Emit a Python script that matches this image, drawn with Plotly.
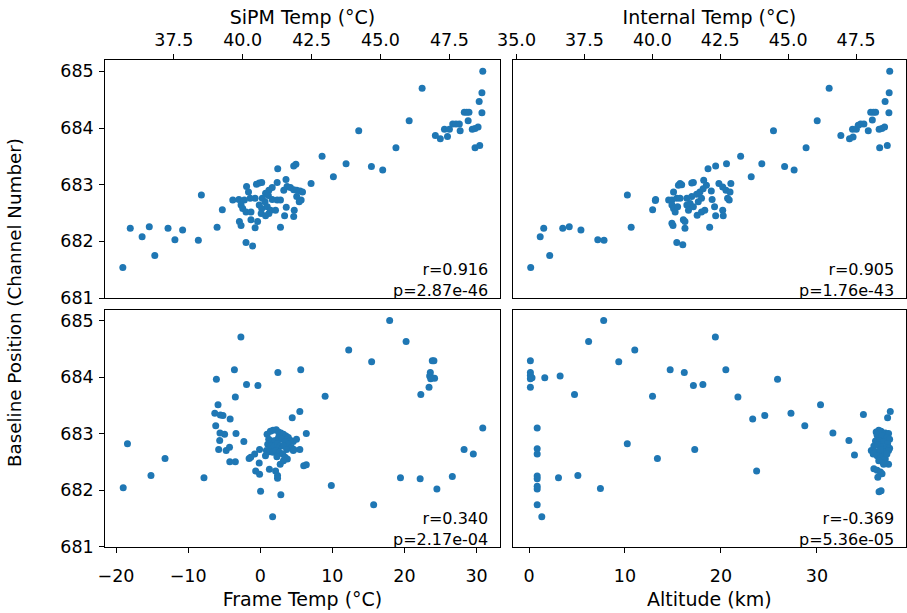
import plotly.graph_objects as go

# ---------------- data ----------------
# Top-left: SiPM Temp vs baseline
sipm_temp = [35.65, 35.92, 36.35, 36.61, 36.81, 37.29, 37.54, 37.82, 38.39, 38.50, 39.07, 39.26,
             41.93, 41.85, 41.27, 42.48, 41.57, 41.25, 40.60, 40.69, 40.50, 40.14, 40.21, 41.07,
             40.95, 40.83, 40.93, 41.49, 41.61, 41.73, 41.85, 41.96, 42.08, 42.17, 39.64, 39.86,
             40.06, 40.45, 40.27, 40.71, 40.81, 41.07, 41.25, 41.37, 41.96, 42.12, 42.05, 39.94,
             40.00, 40.12, 40.30, 40.60, 40.69, 40.89, 41.01, 41.19, 41.58, 41.87, 40.67, 40.83,
             40.95, 41.52, 41.85, 40.30, 40.54, 39.88, 39.94, 40.45, 41.37, 40.12, 40.36,
             48.71, 46.51, 48.68, 48.58, 48.68, 48.04, 48.13, 48.21, 48.18, 46.04, 44.21, 47.32,
             47.50, 47.62, 47.74, 47.86, 47.89, 46.99, 47.17, 47.43, 48.33, 48.43, 48.54, 48.43,
             48.60, 45.56, 42.88, 43.75, 44.67, 45.08, 43.29]
sipm_base = [681.54, 682.23, 682.08, 682.26, 681.75, 682.23, 682.03, 682.20, 682.02, 682.82, 682.25, 682.56,
             683.36, 683.33, 683.28, 683.02, 683.09, 683.04, 683.03, 683.04, 683.01, 682.97, 682.87, 682.95,
             682.90, 682.85, 682.81, 682.90, 682.97, 682.95, 682.91, 682.90, 682.89, 682.87, 682.73, 682.74,
             682.73, 682.76, 682.76, 682.76, 682.70, 682.74, 682.73, 682.73, 682.79, 682.73, 682.70, 682.64,
             682.58, 682.52, 682.52, 682.64, 682.58, 682.61, 682.55, 682.55, 682.60, 682.55, 682.49, 682.45,
             682.49, 682.45, 682.44, 682.38, 682.35, 682.35, 682.28, 682.24, 682.25, 681.98, 681.92,
             685.00, 684.70, 684.62, 684.47, 684.27, 684.28, 684.28, 684.28, 684.13, 684.13, 683.95, 683.98,
             683.98, 684.07, 684.07, 684.07, 683.95, 683.87, 683.81, 683.85, 683.98, 683.99, 684.02, 683.65,
             683.69, 683.65, 683.50, 683.37, 683.32, 683.26, 683.14]

# Top-right: Internal Temp vs baseline
internal_temp = [35.52, 35.87, 36.00, 36.22, 36.70, 36.94, 37.37, 37.99, 38.22, 39.08, 39.22, 40.01, 40.11,
                 42.73, 42.33, 42.05, 41.02, 41.08, 40.96, 41.45, 41.51, 41.89, 41.99, 42.45, 42.59,
                 42.71, 42.86, 42.89, 42.77, 42.83, 40.78, 40.60, 40.72, 40.90, 41.02, 41.27, 41.45,
                 41.63, 41.75, 41.81, 41.87, 42.17, 42.20, 40.12, 40.72, 40.78, 40.84, 40.93, 41.27,
                 41.39, 41.33, 41.51, 41.69, 41.93, 41.81, 41.65, 42.29, 42.59, 42.33, 42.61, 41.14,
                 41.20, 40.72, 40.76, 41.20, 42.11, 40.90, 41.12,
                 48.74, 46.51, 48.72, 48.57, 48.71, 48.04, 48.14, 48.22, 48.10, 46.07, 44.46, 47.37,
                 47.51, 47.67, 47.79, 47.58, 47.95, 46.94, 47.26, 47.39, 48.35, 48.45, 48.55, 48.37,
                 48.65, 45.66, 43.25, 44.03, 44.87, 45.22, 43.64]
internal_base = [681.54, 682.08, 682.23, 681.75, 682.23, 682.26, 682.20, 682.03, 682.02, 682.82, 682.25, 682.56, 682.72,
                 683.37, 683.33, 683.28, 683.02, 683.00, 682.99, 683.03, 683.04, 683.08, 682.99, 683.02, 682.96,
                 682.90, 682.87, 683.02, 682.76, 682.73, 682.87, 682.73, 682.73, 682.76, 682.76, 682.76, 682.79,
                 682.83, 682.87, 682.76, 682.93, 682.89, 682.74, 682.74, 682.64, 682.58, 682.52, 682.61, 682.64,
                 682.67, 682.55, 682.61, 682.70, 682.55, 682.52, 682.46, 682.61, 682.55, 682.45, 682.45, 682.38,
                 682.35, 682.32, 682.28, 682.23, 682.25, 681.98, 681.94,
                 685.00, 684.70, 684.62, 684.47, 684.27, 684.28, 684.28, 684.28, 684.14, 684.13, 683.95, 683.98,
                 683.98, 684.07, 684.07, 684.05, 683.95, 683.87, 683.81, 683.84, 683.98, 683.99, 684.02, 683.65,
                 683.69, 683.65, 683.50, 683.37, 683.32, 683.26, 683.14]

# Bottom-left: Frame Temp vs baseline
frame_temp = [-19.00, -18.41, -15.15, -13.20, -7.80, -2.68, -6.08, -3.58, -1.90, -0.32, 2.45, 5.62,
              -3.45, -5.85, -6.30, -5.53, -5.17, -4.17, -6.17, -5.58, -4.94, -5.62, -3.36, -2.27,
              -5.76, -4.72, -4.26, -4.22, -3.45, -1.54, -1.32, -0.77, -0.09, -0.14, -0.63, -0.09,
              0.05, 2.86, 1.72, 1.27, 2.13, 2.40, 2.40, 4.44, 5.49, 6.39, 4.58, 6.03, 6.39,
              0.95, 1.41, 1.77, 2.22, 2.54, 2.86, 3.22, 3.58, 3.90, 4.22, 4.58, 5.03,
              1.18, 1.63, 2.09, 2.54, 2.99, 3.45, 3.90, 4.35, 4.67, 5.49,
              1.04, 1.41, 1.95, 2.40, 2.77, 3.22, 3.67,
              0.86, 1.32, 1.77, 2.22, 2.68, 3.13, 3.45, 3.76,
              0.73, 2.31, 2.77, 3.22,
              17.95, 20.23, 12.27, 15.45, 23.86, 24.09, 23.59, 23.50, 23.82, 24.18, 23.64, 23.41,
              22.27, 9.00, 30.86, 28.27, 29.55, 9.86, 15.73, 19.45, 22.18, 24.50, 26.64]
frame_base = [682.04, 682.82, 682.26, 682.56, 682.22, 684.71, 683.96, 684.13, 683.87, 683.85, 684.08, 684.13,
              683.65, 683.51, 683.36, 683.33, 683.32, 683.26, 683.14, 683.01, 682.99, 682.88, 683.00, 682.86,
              682.72, 682.70, 682.76, 682.50, 682.50, 682.56, 682.58, 682.64, 682.72, 682.48, 682.34, 682.28,
              681.98, 681.92, 681.53, 682.37, 682.34, 682.26, 682.21, 683.28, 683.39, 683.00, 682.70, 682.43, 682.45,
              682.99, 683.04, 683.06, 683.07, 683.03, 683.01, 682.99, 682.96, 682.93, 682.88, 682.86, 682.90,
              682.90, 682.87, 682.88, 682.93, 682.90, 682.86, 682.81, 682.75, 682.72, 682.72,
              682.81, 682.78, 682.78, 682.82, 682.78, 682.78, 682.72,
              682.70, 682.68, 682.67, 682.70, 682.67, 682.64, 682.58, 682.55,
              682.61, 682.59, 682.46, 682.52,
              685.00, 684.63, 684.48, 684.27, 684.29, 684.29, 684.08, 684.02, 683.99, 683.98, 683.97, 683.82,
              683.69, 683.66, 683.10, 682.72, 682.64, 682.08, 681.74, 682.22, 682.20, 682.02, 682.24]

# Bottom-right: Altitude vs baseline
altitude = [7.78, 6.21, 11.02, 9.35, 0.14, 0.14, 0.14, 0.14, 0.31, 0.14, 1.64, 3.24, 4.74, 12.87,
            14.71, 16.18, 17.13, 18.12, 0.85, 0.85, 0.85, 0.85, 0.85, 0.85, 0.85, 0.85, 1.33, 3.07,
            5.09, 7.44, 10.24, 13.38, 17.27, 19.42, 20.51, 25.90, 21.77, 23.31, 24.57, 27.30, 28.74,
            30.38, 31.67, 33.34, 33.92, 34.85, 23.72, 37.65, 37.37, 36.48, 36.69,
            36.18, 36.45, 36.69, 37.13, 37.47, 36.28, 36.79, 37.30, 37.58, 36.11, 36.55, 36.96, 37.37,
            35.94, 36.35, 36.79, 37.24, 37.58, 35.67, 36.11, 36.55, 37.03, 37.47, 35.87, 36.28, 36.69,
            37.13, 37.47, 36.45, 36.89, 35.94, 36.28, 36.62, 36.79, 36.35, 36.96, 37.30, 36.62]
altitude_base = [685.00, 684.63, 684.48, 684.27, 684.29, 684.08, 684.03, 683.97, 683.99, 683.82, 683.99, 684.02,
                 683.69, 683.66, 684.13, 684.08, 683.85, 683.87, 683.10, 682.73, 682.64, 682.25, 682.20, 682.07,
                 682.02, 681.74, 681.53, 682.22, 682.26, 682.03, 682.82, 682.56, 682.72, 684.71, 684.13, 683.96,
                 683.65, 683.26, 683.32, 683.36, 683.14, 683.51, 683.01, 682.88, 682.62, 683.34, 682.34, 683.39,
                 683.28, 681.97, 681.99,
                 683.03, 683.06, 683.04, 683.01, 683.00, 682.97, 682.96, 682.93, 682.90, 682.87, 682.87, 682.86,
                 682.82, 682.78, 682.80, 682.76, 682.75, 682.74, 682.70, 682.68, 682.67, 682.67, 682.70, 682.64,
                 682.61, 682.58, 682.55, 682.46, 682.52, 682.49, 682.38, 682.35, 682.32, 682.29, 682.23, 682.46,
                 682.64, 682.72]

stats = [("r=0.916", "p=2.87e-46"), ("r=0.905", "p=1.76e-43"),
         ("r=0.340", "p=2.17e-04"), ("r=-0.369", "p=5.36e-05")]

sipm_ticks = [37.5, 40.0, 42.5, 45.0, 47.5]
internal_ticks = [35.0, 37.5, 40.0, 42.5, 45.0, 47.5]
frame_ticks = [-20, -10, 0, 10, 20, 30]
altitude_ticks = [0, 10, 20, 30]
base_ticks = [681, 682, 683, 684, 685]

# ---------------- figure ----------------
W, H = 907, 613
BLUE = "#1f77b4"
TICK_FONT = dict(family="DejaVu Sans", size=17.5, color="black")
TITLE_FONT = dict(family="DejaVu Sans", size=18.3, color="black")
XTITLE_FONT = dict(family="DejaVu Sans", size=19, color="black")
NOTE_FONT = dict(family="DejaVu Sans", size=16, color="black")

fig = go.Figure()
panels = [(sipm_temp, sipm_base, "x", "y"),
          (internal_temp, internal_base, "x2", "y2"),
          (frame_temp, frame_base, "x3", "y3"),
          (altitude, altitude_base, "x4", "y4")]
for xs, ys, xa, ya in panels:
    fig.add_trace(go.Scatter(x=xs, y=ys, mode="markers", xaxis=xa, yaxis=ya,
                             marker=dict(color=BLUE, size=7, line=dict(width=0)),
                             showlegend=False, hoverinfo="skip"))

left_dom = [91.7 / W, 493 / W]
right_dom = [506 / W, 906 / W]
top_dom = [1 - 303 / H, 1 - 61 / H]
bot_dom = [1 - 555.7 / H, 1 - 315 / H]

common = dict(showline=True, mirror=True, linecolor="black", linewidth=1,
              showgrid=False, zeroline=False, ticks="outside", ticklen=5,
              tickwidth=1, tickcolor="black", tickfont=TICK_FONT)
topx = dict(common, ticklabelstandoff=1)
botx = dict(common, ticklabelstandoff=8)

fig.update_layout(
    width=W, height=H, margin=dict(l=0, r=0, t=0, b=0),
    plot_bgcolor="white", paper_bgcolor="white", font=TICK_FONT,
    xaxis=dict(domain=left_dom, anchor="y", side="top", range=[35.01, 49.33],
               tickvals=sipm_ticks, tickformat=".1f",
               title=dict(text="SiPM Temp (°C)", font=XTITLE_FONT, standoff=0), **topx),
    yaxis=dict(domain=top_dom, anchor="x", range=[681, 685.2], tickvals=base_ticks,
               ticklabelstandoff=2, **common),
    xaxis2=dict(domain=right_dom, anchor="y2", side="top", range=[34.855, 49.34],
                tickvals=internal_ticks, tickformat=".1f",
                title=dict(text="Internal Temp (°C)", font=XTITLE_FONT, standoff=0), **topx),
    yaxis2=dict(domain=top_dom, anchor="x2", range=[681, 685.2], tickvals=base_ticks,
                **{**common, "ticks": "", "showticklabels": False}),
    xaxis3=dict(domain=left_dom, anchor="y3", range=[-21.5, 33.23], tickvals=frame_ticks,
                title=dict(text="Frame Temp (°C)", font=XTITLE_FONT, standoff=8), **botx),
    yaxis3=dict(domain=bot_dom, anchor="x3", range=[681, 685.19], tickvals=base_ticks,
                ticklabelstandoff=2, **common),
    xaxis4=dict(domain=right_dom, anchor="y4", range=[-1.71, 39.29], tickvals=altitude_ticks,
                title=dict(text="Altitude (km)", font=XTITLE_FONT, standoff=8), **botx),
    yaxis4=dict(domain=bot_dom, anchor="x4", range=[681, 685.19], tickvals=base_ticks,
                **{**common, "ticks": "", "showticklabels": False}),
)

annotations = [dict(text="Baseline Position (Channel Number)", textangle=-90,
                    x=0, y=1 - 308 / H, xref="paper", yref="paper",
                    showarrow=False, font=TITLE_FONT, xanchor="center", yanchor="middle")]
for i, (rtxt, ptxt) in enumerate(stats):
    suffix = "" if i == 0 else str(i + 1)
    annotations.append(dict(text=f"{rtxt}<br>{ptxt}", x=0.973, y=0.075,
                            xref=f"x{suffix} domain", yref=f"y{suffix} domain",
                            xanchor="right", yanchor="middle", align="right",
                            showarrow=False, font=NOTE_FONT, borderpad=0))
fig.update_layout(annotations=annotations)

fig.write_html("out.html", config={"displayModeBar": False},
               post_script="document.body.style.margin='0';document.body.style.overflow='hidden';")
